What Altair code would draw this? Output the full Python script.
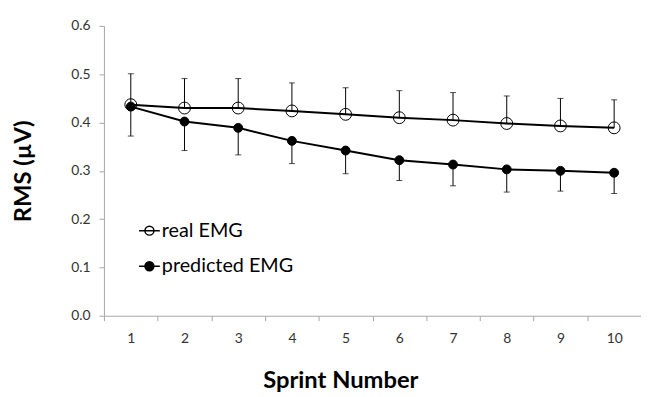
import altair as alt
import pandas as pd

sprints = [1, 2, 3, 4, 5, 6, 7, 8, 9, 10]
real_emg = [0.437, 0.430, 0.430, 0.424, 0.417, 0.410, 0.405, 0.398, 0.393, 0.389]
real_upper = [0.501, 0.491, 0.491, 0.482, 0.472, 0.466, 0.462, 0.455, 0.450, 0.447]
pred_emg = [0.433, 0.402, 0.389, 0.362, 0.342, 0.322, 0.313, 0.303, 0.300, 0.296]
pred_lower = [0.372, 0.342, 0.333, 0.315, 0.294, 0.280, 0.269, 0.256, 0.258, 0.253]
series_names = ["real EMG", "predicted EMG"]
y_ticks = [0.0, 0.1, 0.2, 0.3, 0.4, 0.5, 0.6]

rows = []
for i, s in enumerate(sprints):
    rows.append({"sprint": s, "series": series_names[0], "value": real_emg[i], "err": real_upper[i]})
    rows.append({"sprint": s, "series": series_names[1], "value": pred_emg[i], "err": pred_lower[i]})
df = pd.DataFrame(rows)

FONT = "Lato"
x_enc = alt.X(
    "sprint:O",
    scale=alt.Scale(paddingInner=0, paddingOuter=0),
    axis=alt.Axis(
        title="Sprint Number",
        labelAngle=0,
        tickBand="extent",
        tickSize=5,
        labelPadding=11,
        labelFontSize=14,
        labelFont=FONT,
        labelColor="#333333",
        titleFont=FONT,
        titleFontSize=24,
        titleFontWeight="bold",
        titleColor="black",
        titleX=239,
        titleY=73,
        titleBaseline="alphabetic",
        domainColor="#a6a6a6",
        tickColor="#a6a6a6",
    ),
)
y_scale = alt.Scale(domain=[0, 0.6], nice=False)
y_enc = alt.Y(
    "value:Q",
    scale=y_scale,
    axis=alt.Axis(
        title="RMS (µV)",
        values=y_ticks,
        format=".1f",
        grid=False,
        tickSize=5,
        labelPadding=9,
        labelFontSize=14,
        labelFont=FONT,
        labelColor="#333333",
        titleFont=FONT,
        titleFontSize=24,
        titleFontWeight="bold",
        titleColor="black",
        titlePadding=36,
        domainColor="#a6a6a6",
        tickColor="#a6a6a6",
    ),
)

base = alt.Chart(df)

lines = base.mark_line(color="black", strokeWidth=2).encode(
    x=x_enc, y=y_enc, detail="series:N"
)
bars = base.mark_rule(color="black", strokeWidth=1).encode(
    x="sprint:O", y=alt.Y("value:Q"), y2="err:Q"
)
caps = base.mark_tick(color="black", thickness=1, size=6).encode(
    x="sprint:O", y=alt.Y("err:Q")
)

legend_symbol = (
    "M-1,0L1,0M0.43,0A0.43,0.43,0,1,1,-0.43,0A0.43,0.43,0,1,1,0.43,0Z"
)
points = base.mark_point(filled=True, stroke="black", strokeWidth=1, opacity=1).encode(
    x="sprint:O",
    y="value:Q",
    fill=alt.Fill(
        "series:N",
        scale=alt.Scale(domain=series_names, range=["transparent", "black"]),
        legend=alt.Legend(
            title=None,
            orient="none",
            legendX=34.5,
            legendY=195.5,
            padding=0,
            symbolType=legend_symbol,
            symbolSize=441,
            symbolStrokeColor="black",
            symbolStrokeWidth=1.5,
            labelFont=FONT,
            labelFontSize=20,
            labelColor="black",
            labelOffset=1,
            rowPadding=14,
        ),
    ),
    size=alt.condition(
        alt.datum.series == series_names[0], alt.value(144), alt.value(81)
    ),
)

chart = (
    alt.layer(lines, bars, caps, points)
    .properties(
        width=543,
        height=293,
        padding={"left": 97, "top": 16, "right": 0, "bottom": 76},
        autosize=alt.AutoSizeParams(type="none"),
        background="white",
    )
    .configure_view(stroke=None)
)

chart.save("out.html", embed_options={"renderer": "svg", "actions": False})
